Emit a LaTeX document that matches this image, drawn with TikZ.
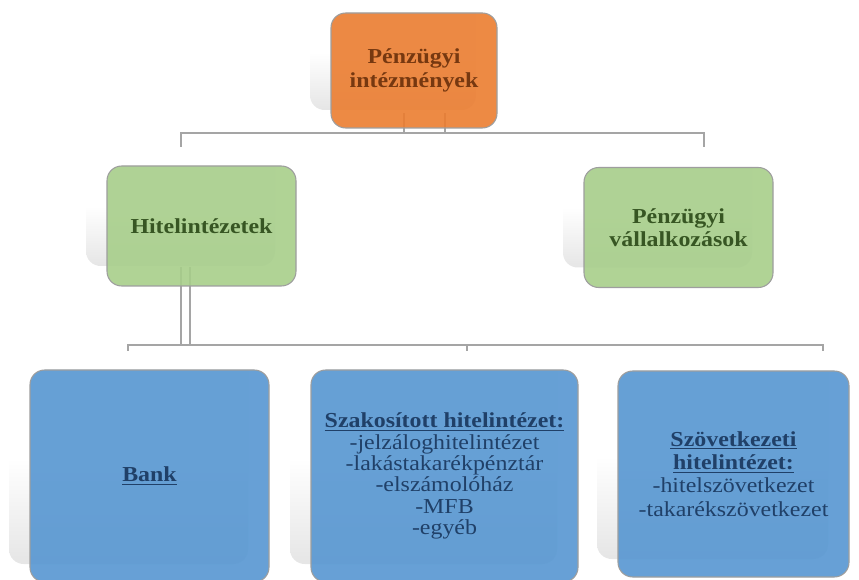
\documentclass[tikz,border=0pt]{standalone}
\usepackage{fontspec}
\setmainfont{Liberation Serif}[FakeStretch=1.12]
\usetikzlibrary{positioning}
\definecolor{orgfill}{RGB}{235,125,48}
\definecolor{orgtext}{RGB}{118,56,16}
\definecolor{grnfill}{RGB}{167,206,138}
\definecolor{grntext}{RGB}{55,86,35}
\definecolor{blufill}{RGB}{86,150,209}
\definecolor{blutext}{RGB}{32,64,104}
\definecolor{boxline}{RGB}{158,158,158}
\definecolor{connline}{RGB}{165,165,165}
\tikzstyle{box} = [draw=boxline, line width=0.8pt, rounded corners=11pt, align=center, inner sep=0pt, fill opacity=0.9, text opacity=1]
\tikzstyle{orgbox} = [box, fill=orgfill, text=orgtext, minimum width=124.5pt, minimum height=86.25pt, font=\fontsize{16}{17.5}\selectfont\bfseries]
\tikzstyle{grnbox} = [box, fill=grnfill, text=grntext, minimum width=141.75pt, minimum height=90pt, font=\fontsize{16}{17.5}\selectfont\bfseries]
\tikzstyle{blubox} = [box, fill=blufill, text=blutext, minimum height=159pt, font=\fontsize{16}{16}\selectfont]
\tikzstyle{shadowbox} = [rounded corners=11pt, top color=white, bottom color=black!10, middle color=white, inner sep=0pt]
\tikzstyle{conn} = [draw=connline, line width=0.8pt]

\begin{document}
\begin{tikzpicture}[x=0.75pt, y=-0.75pt]
  \useasboundingbox (0,0) rectangle (859,580);

  % shadows
  \node[shadowbox, minimum width=124.5pt, minimum height=86.25pt] (intezsh) at (393,52.5) {};
  \node[shadowbox, minimum width=141.75pt, minimum height=90pt] (hitelsh) at (180.5,206) {};
  \node[shadowbox, minimum width=141.75pt, minimum height=90pt] (vallsh) at (657.5,207.5) {};
  \node[shadowbox, minimum width=179.25pt, minimum height=159pt] (banksh) at (128.5,458) {};
  \node[shadowbox, minimum width=200.25pt, minimum height=159pt] (szaksh) at (423.5,458) {};
  \node[shadowbox, minimum width=173.25pt, minimum height=154.5pt] (szovsh) at (712.5,456) {};

  % connectors
  \coordinate (topA) at (404,113);
  \coordinate (topB) at (445,113);
  \coordinate (barL) at (181,133);
  \coordinate (barR) at (704,133);
  \coordinate (dropL) at (181,147);
  \coordinate (dropR) at (704,147);
  \draw[conn] (dropL) -- (barL) -- (barR) -- (dropR);
  \draw[conn] (topA) -- (topA |- barL);
  \draw[conn] (topB) -- (topB |- barL);

  \coordinate (dblA) at (181,267);
  \coordinate (dblB) at (190,267);
  \coordinate (bar2L) at (128,345);
  \coordinate (bar2R) at (823,345);
  \coordinate (tickL) at (128,351);
  \coordinate (tickM) at (467,351);
  \coordinate (tickR) at (823,351);
  \draw[conn] (tickL) -- (bar2L) -- (bar2R) -- (tickR);
  \draw[conn] (tickM) -- (tickM |- bar2L);
  \draw[conn] (dblA) -- (dblA |- bar2L);
  \draw[conn] (dblB) -- (dblB |- bar2L);

  % boxes
  \node[orgbox] (intez) at (414,70.5) {Pénzügyi\\intézmények};
  \node[grnbox] (hitel) at (201.5,226) {Hitelintézetek};
  \node[grnbox] (vall) at (678.5,227.5) {Pénzügyi\\vállalkozások};
  \node[blubox, minimum width=179.25pt] (bank) at (149.5,476) {\underline{\textbf{Bank}}};
  \node[blubox, minimum width=200.25pt] (szak) at (444.5,476)
    {\underline{\textbf{Szakosított hitelintézet:}}\\-jelzáloghitelintézet\\-lakástakarékpénztár\\-elszámolóház\\-MFB\\-egyéb};
  \node[blubox, minimum width=173.25pt, minimum height=154.5pt, font=\fontsize{16}{17.5}\selectfont] (szov) at (733.5,474)
    {\underline{\textbf{Szövetkezeti}}\\\underline{\textbf{hitelintézet:}}\\-hitelszövetkezet\\-takarékszövetkezet};
\end{tikzpicture}
\end{document}
